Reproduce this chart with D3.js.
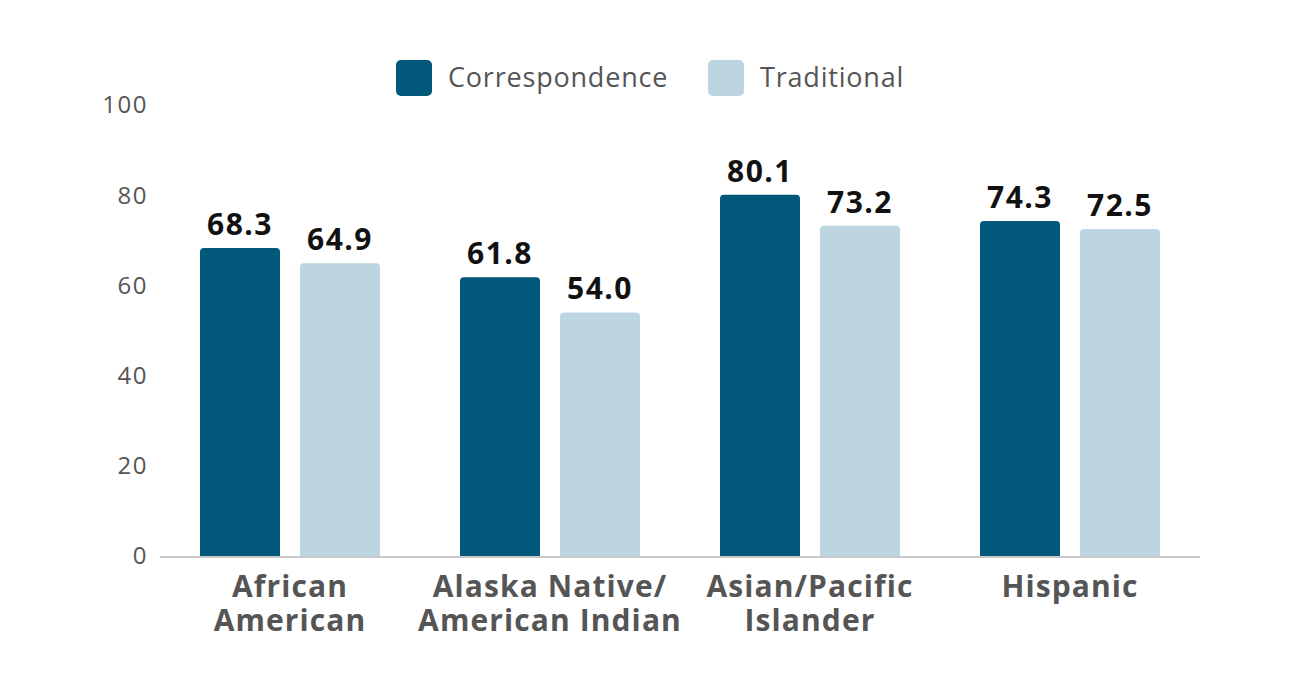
<!DOCTYPE html>
<html>
<head>
<meta charset="utf-8">
<script src="https://cdn.jsdelivr.net/npm/d3@7"></script>
<style>
  body { margin: 0; background: #fff; }
  text { font-family: "Open Sans", "Noto Sans", sans-serif; }
</style>
</head>
<body>
<script>
var categories = [["African", "American"], ["Alaska Native/", "American Indian"], ["Asian/Pacific", "Islander"], ["Hispanic"]];
var series = ["Correspondence", "Traditional"];
var correspondence = [68.3, 61.8, 80.1, 74.3];
var traditional = [64.9, 54.0, 73.2, 72.5];
var yTicks = [0, 20, 40, 60, 80, 100];

var colors = { Correspondence: "#02587a", Traditional: "#bcd5e0" };

var width = 1300, height = 700;
var margin = { left: 160, right: 100, top: 105, bottom: 144 };
var innerW = width - margin.left - margin.right;
var innerH = height - margin.top - margin.bottom;

var svg = d3.select("body").append("svg").attr("width", width).attr("height", height);
var g = svg.append("g").attr("transform", "translate(" + margin.left + "," + margin.top + ")");

var x0 = d3.scaleBand().domain(d3.range(categories.length)).range([0, innerW]);
var x1 = d3.scaleBand().domain(series).range([40, x0.bandwidth() - 40]).paddingInner(0.2);
var y = d3.scaleLinear().domain([0, 100]).range([innerH, 0]);

// y tick labels
g.selectAll(".ytick").data(yTicks).enter().append("text")
  .attr("x", -12).attr("y", function(d) { return y(d); })
  .attr("dy", "0.35em").attr("text-anchor", "end")
  .attr("font-size", 24).attr("letter-spacing", 1.5).attr("fill", "#555")
  .text(function(d) { return d; });

// bars with rounded top corners
function barPath(x, yTop, w, h, r) {
  return "M" + x + "," + (yTop + h) +
    "V" + (yTop + r) + "Q" + x + "," + yTop + " " + (x + r) + "," + yTop +
    "H" + (x + w - r) + "Q" + (x + w) + "," + yTop + " " + (x + w) + "," + (yTop + r) +
    "V" + (yTop + h) + "Z";
}

var rows = [];
categories.forEach(function(c, i) {
  rows.push({ i: i, s: "Correspondence", v: correspondence[i] });
  rows.push({ i: i, s: "Traditional", v: traditional[i] });
});

g.selectAll(".bar").data(rows).enter().append("path")
  .attr("fill", function(d) { return colors[d.s]; })
  .attr("d", function(d) {
    return barPath(x0(d.i) + x1(d.s), y(d.v), x1.bandwidth(), innerH - y(d.v), 4);
  });

g.selectAll(".val").data(rows).enter().append("text")
  .attr("x", function(d) { return x0(d.i) + x1(d.s) + x1.bandwidth() / 2; })
  .attr("y", function(d) { return y(d.v) - 13; })
  .attr("text-anchor", "middle").attr("font-size", 30).attr("font-weight", "bold")
  .attr("letter-spacing", 1.5).attr("fill", "#111")
  .text(function(d) { return d.v.toFixed(1); });

// baseline
g.append("line").attr("x1", 0).attr("x2", innerW)
  .attr("y1", innerH + 1).attr("y2", innerH + 1)
  .attr("stroke", "#c8c8c8").attr("stroke-width", 2);

// category labels
var cat = g.selectAll(".cat").data(categories).enter().append("text")
  .attr("text-anchor", "middle").attr("font-size", 30).attr("font-weight", "bold")
  .attr("letter-spacing", 1.1).attr("fill", "#555")
  .attr("transform", function(d, i) { return "translate(" + (x0(i) + x0.bandwidth() / 2) + "," + (innerH + 41) + ")"; });
cat.selectAll("tspan").data(function(d) { return d; }).enter().append("tspan")
  .attr("x", 0).attr("dy", function(d, j) { return j ? 34 : 0; })
  .text(function(d) { return d; });

// legend
var legendX = [396, 708];
var legend = svg.selectAll(".leg").data(series).enter().append("g")
  .attr("transform", function(d, i) { return "translate(" + legendX[i] + ",60)"; });
legend.append("rect").attr("width", 36).attr("height", 36).attr("rx", 5)
  .attr("fill", function(d) { return colors[d]; });
legend.append("text").attr("x", 52).attr("y", 18).attr("dy", "0.35em")
  .attr("font-size", 27).attr("letter-spacing", 0.8).attr("fill", "#555")
  .text(function(d) { return d; });
</script>
</body>
</html>
